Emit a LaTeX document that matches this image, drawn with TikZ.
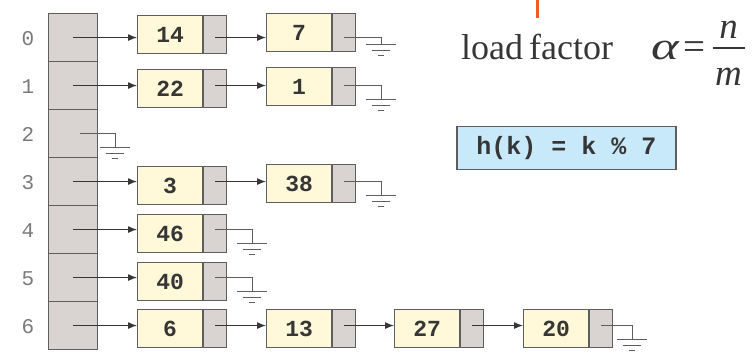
\documentclass[tikz,border=0pt]{standalone}
\usepackage{fontspec}
\setmainfont{Liberation Serif}
\setmonofont{Liberation Mono}
\usetikzlibrary{arrows.meta}
\definecolor{cellgray}{HTML}{D9D3D1}
\definecolor{keyyellow}{HTML}{FFF9D9}
\definecolor{boxblue}{HTML}{C8E9F9}
\definecolor{edgegray}{HTML}{5E5E5E}
\definecolor{inkdark}{HTML}{363636}
\definecolor{idxgray}{HTML}{7A7A7A}
\definecolor{accent}{HTML}{F15A24}
\tikzset{
  bucket/.style={draw=edgegray, fill=cellgray, line width=1.1bp,
    minimum width=49bp, minimum height=48bp, inner sep=0pt, anchor=north west},
  keybox/.style={draw=edgegray, fill=keyyellow, line width=1.1bp,
    minimum width=65bp, minimum height=38bp, inner sep=0pt, anchor=north west,
    text=inkdark, font=\fontsize{23bp}{26bp}\selectfont\ttfamily\bfseries},
  ptrbox/.style={draw=edgegray, fill=cellgray, line width=1.1bp,
    minimum width=23bp, minimum height=38bp, inner sep=0pt, anchor=west},
  idx/.style={text=idxgray, font=\fontsize{21bp}{24bp}\selectfont\ttfamily},
  link/.style={draw=inkdark, line width=1bp,
    -{Latex[length=9bp,width=7bp]}},
  wire/.style={draw=edgegray, line width=1bp},
  earth/.pic={
    \draw[wire] (-15,0) -- (15,0) (-9,6) -- (9,6) (-3,11) -- (3,11);
  },
  formula/.style={anchor=base, inner sep=0pt, text=inkdark},
}
\begin{document}
\begin{tikzpicture}[x=1bp,y=-1bp]
\useasboundingbox (0,0) rectangle (753,358);

% bucket array
\foreach \i in {0,...,6}{
  \node[bucket] (b\i) at (48,{13+48*\i}) {};
  \node[idx] (i\i) at (28,{38.5+48*\i}) {\i};
}

% chain nodes: key part + pointer part
\node[keybox] (d14) at (137,15) {14};  \node[ptrbox] (p14) at (d14.east) {};
\node[keybox] (d7)  at (266,13) {7};   \node[ptrbox] (p7)  at (d7.east) {};
\node[keybox] (d22) at (137,69) {22};  \node[ptrbox] (p22) at (d22.east) {};
\node[keybox] (d1)  at (266,67) {1};   \node[ptrbox] (p1)  at (d1.east) {};
\node[keybox] (d3)  at (137,166) {3};  \node[ptrbox] (p3)  at (d3.east) {};
\node[keybox] (d38) at (266,164) {38}; \node[ptrbox] (p38) at (d38.east) {};
\node[keybox] (d46) at (137,214) {46}; \node[ptrbox] (p46) at (d46.east) {};
\node[keybox] (d40) at (137,262) {40}; \node[ptrbox] (p40) at (d40.east) {};
\node[keybox] (d6)  at (137,309) {6};  \node[ptrbox] (p6)  at (d6.east) {};
\node[keybox] (d13) at (266,309) {13}; \node[ptrbox] (p13) at (d13.east) {};
\node[keybox] (d27) at (394,309) {27}; \node[ptrbox] (p27) at (d27.east) {};
\node[keybox] (d20) at (523,309) {20}; \node[ptrbox] (p20) at (d20.east) {};

% links from buckets
\draw[link] (b0.center) -- (b0.center -| d14.west);
\draw[link] (b1.center) -- (b1.center -| d22.west);
\draw[link] (b3.center) -- (b3.center -| d3.west);
\draw[link] (b4.center) -- (b4.center -| d46.west);
\draw[link] (b5.center) -- (b5.center -| d40.west);
\draw[link] (b6.center) -- (b6.center -| d6.west);

% links between chain nodes
\draw[link] (p14.center |- b0.center) -- (b0.center -| d7.west);
\draw[link] (p22.center |- b1.center) -- (b1.center -| d1.west);
\draw[link] (p3.center |- b3.center)  -- (b3.center -| d38.west);
\draw[link] (p6.center |- b6.center)  -- (b6.center -| d13.west);
\draw[link] (p13.center |- b6.center) -- (b6.center -| d27.west);
\draw[link] (p27.center |- b6.center) -- (b6.center -| d20.west);

% null pointers
\coordinate (g2)  at ([xshift=17bp]b2.east);
\coordinate (g7)  at ([xshift=25bp]p7.east |- b0.center);
\coordinate (g1)  at ([xshift=25bp]p1.east |- b1.center);
\coordinate (g38) at ([xshift=25bp]p38.east |- b3.center);
\coordinate (g46) at ([xshift=25bp]p46.east |- b4.center);
\coordinate (g40) at ([xshift=25bp]p40.east |- b5.center);
\coordinate (g20) at ([xshift=19bp]p20.east |- b6.center);
\draw[wire] ([xshift=7bp]b2.center) -- (g2) -- ++(0,14) pic {earth};
\draw[wire] (p7.center |- b0.center) -- (g7) -- ++(0,6.5) pic {earth};
\draw[wire] (p1.center |- b1.center) -- (g1) -- ++(0,14) pic {earth};
\draw[wire] (p38.center |- b3.center) -- (g38) -- ++(0,14) pic {earth};
\draw[wire] (p46.center |- b4.center) -- (g46) -- ++(0,14) pic {earth};
\draw[wire] (p40.center |- b5.center) -- (g40) -- ++(0,14) pic {earth};
\draw[wire] (p20.center |- b6.center) -- (g20) -- ++(0,14) pic {earth};

% accent mark
\coordinate (m0) at (537.5,0);
\coordinate (m1) at (537.5,17.5);
\draw[accent, line width=3bp] (m0) -- (m1);

% load factor  alpha = n / m
\node[anchor=base west, inner sep=0pt, text=inkdark,
      font=\fontsize{36bp}{40bp}\selectfont] (lf) at (461,59.5) {load\,factor};
\node[formula, font=\fontsize{39bp}{44bp}\selectfont\itshape] (al)
  at (665,59.3) {\scalebox{1.35}[1]{α}};
\node[formula, font=\fontsize{39bp}{44bp}\selectfont] (eq)
  at (694,59.3) {=};
\node[formula, font=\fontsize{37bp}{40bp}\selectfont\itshape] (nu)
  at (728.5,38.3) {n};
\node[formula, font=\fontsize{37bp}{40bp}\selectfont\itshape] (de)
  at (728.5,85) {m};
\coordinate (fl) at (712.5,47.7);
\coordinate (fr) at (744.5,47.7);
\draw[inkdark, line width=1.6bp] (fl) -- (fr);

% hash function
\node[draw=edgegray, fill=boxblue, line width=1.1bp, minimum width=219bp,
      minimum height=43bp, inner sep=0pt, text=inkdark,
      font=\fontsize{25bp}{28bp}\selectfont\ttfamily\bfseries] (hf)
  at (566.5,147.7) {h(k) = k \% 7};
\end{tikzpicture}
\end{document}
